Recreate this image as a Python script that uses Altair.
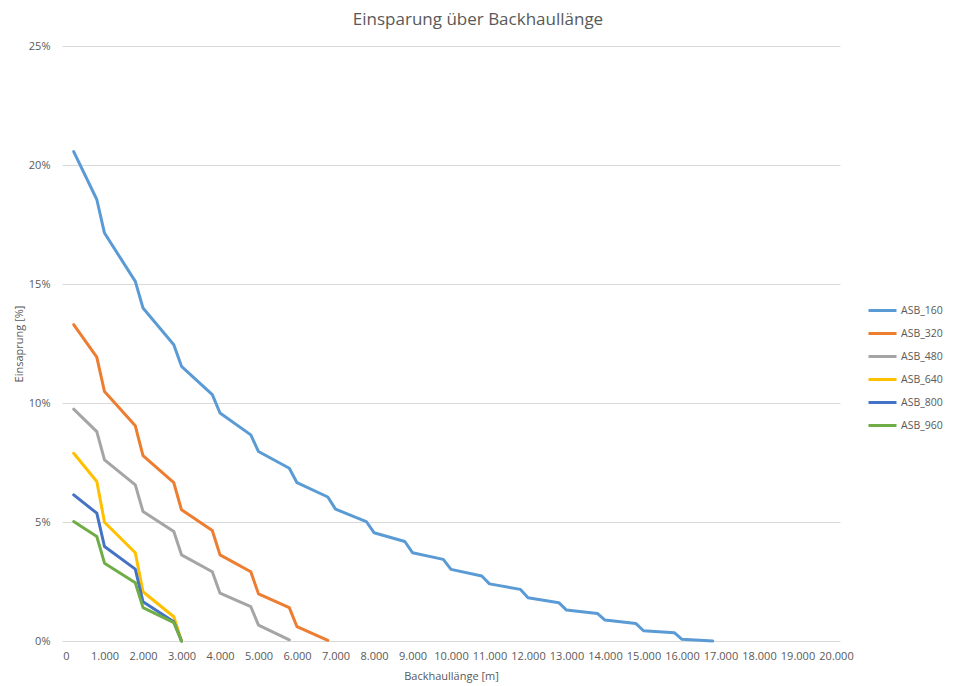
import altair as alt
import pandas as pd

series_names = ["ASB_160", "ASB_320", "ASB_480", "ASB_640", "ASB_800", "ASB_960"]
series_colors = ["#5B9BD5", "#ED7D31", "#A5A5A5", "#FFC000", "#4472C4", "#70AD47"]

x_160 = [200, 800, 1000, 1800, 2000, 2800, 3000, 3800, 4000, 4800, 5000, 5800, 6000, 6800, 7000,
         7800, 8000, 8800, 9000, 9800, 10000, 10800, 11000, 11800, 12000, 12800, 13000, 13800,
         14000, 14800, 15000, 15800, 16000, 16800]
y_160 = [20.56, 18.55, 17.14, 15.11, 13.99, 12.45, 11.54, 10.35, 9.58, 8.66, 7.96, 7.26, 6.65, 6.05, 5.54,
         5.02, 4.55, 4.18, 3.71, 3.43, 3.01, 2.73, 2.40, 2.17, 1.82, 1.61, 1.30, 1.16,
         0.88, 0.74, 0.43, 0.35, 0.07, 0.0]

x_320 = [200, 800, 1000, 1800, 2000, 2800, 3000, 3800, 4000, 4800, 5000, 5800, 6000, 6800]
y_320 = [13.29, 11.93, 10.48, 9.04, 7.79, 6.65, 5.51, 4.64, 3.62, 2.91, 1.98, 1.40, 0.60, 0.03]

x_480 = [200, 800, 1000, 1800, 2000, 2800, 3000, 3800, 4000, 4800, 5000, 5800]
y_480 = [9.74, 8.80, 7.61, 6.56, 5.44, 4.60, 3.62, 2.91, 2.01, 1.44, 0.67, 0.05]

x_640 = [200, 800, 1000, 1800, 2000, 2800, 3000]
y_640 = [7.89, 6.70, 4.99, 3.71, 2.07, 1.02, 0.0]

x_800 = [200, 800, 1000, 1800, 2000, 2800, 3000]
y_800 = [6.14, 5.37, 3.97, 3.02, 1.65, 0.81, 0.0]

x_960 = [200, 800, 1000, 1800, 2000, 2800, 3000]
y_960 = [5.02, 4.39, 3.27, 2.45, 1.40, 0.77, 0.0]

x_ticks = list(range(0, 20001, 1000))
y_ticks = [0, 5, 10, 15, 20, 25]

rows = []
for name, xs, ys in zip(series_names,
                        [x_160, x_320, x_480, x_640, x_800, x_960],
                        [y_160, y_320, y_480, y_640, y_800, y_960]):
    for i, (xv, yv) in enumerate(zip(xs, ys)):
        rows.append({"serie": name, "m": xv, "pct": yv, "ord": i})
df = pd.DataFrame(rows)

FONT = "Open Sans"
TXT = "#595959"

chart = alt.Chart(df).mark_line(strokeWidth=3, strokeJoin="round", strokeCap="round").encode(
    x=alt.X("m:Q",
            scale=alt.Scale(domain=[0, 20000], nice=False, padding=4),
            axis=alt.Axis(values=x_ticks, title="Backhaullänge [m]",
                          labelExpr="replace(format(datum.value, ','), ',', '.')",
                          grid=False, domain=False, ticks=False,
                          labelPadding=9, titlePadding=9, labelFlush=False)),
    y=alt.Y("pct:Q",
            scale=alt.Scale(domain=[0, 25], nice=False),
            axis=alt.Axis(values=y_ticks, title="Einsaprung [%]",
                          labelExpr="datum.value + '%'",
                          grid=True, domain=False, ticks=False,
                          labelPadding=12, titlePadding=4)),
    color=alt.Color("serie:N",
                    scale=alt.Scale(domain=series_names, range=series_colors),
                    legend=alt.Legend(title=None, orient="none", legendX=805, legendY=249,
                                      symbolType="stroke", symbolStrokeWidth=3, symbolSize=784,
                                      labelFontSize=10.5, labelColor=TXT, labelFont=FONT,
                                      rowPadding=1, labelOffset=3)),
    order="ord:Q",
    detail="serie:N",
).properties(
    width=778,
    height=595,
    padding={"left": 54, "top": 38, "right": 105, "bottom": 46},
    autosize=alt.AutoSizeParams(type="none"),
    title=alt.TitleParams("Einsparung über Backhaullänge", fontSize=17, font=FONT,
                          fontWeight="normal", color=TXT, anchor="middle", dx=27, offset=11),
).configure_view(stroke=None).configure_axis(
    labelFont=FONT, labelFontSize=11, labelColor=TXT,
    titleFont=FONT, titleFontSize=11, titleColor=TXT, titleFontWeight="normal",
    gridColor="#D9D9D9", gridWidth=1,
)

chart.save("out.html", embed_options={"renderer": "svg", "actions": False})
